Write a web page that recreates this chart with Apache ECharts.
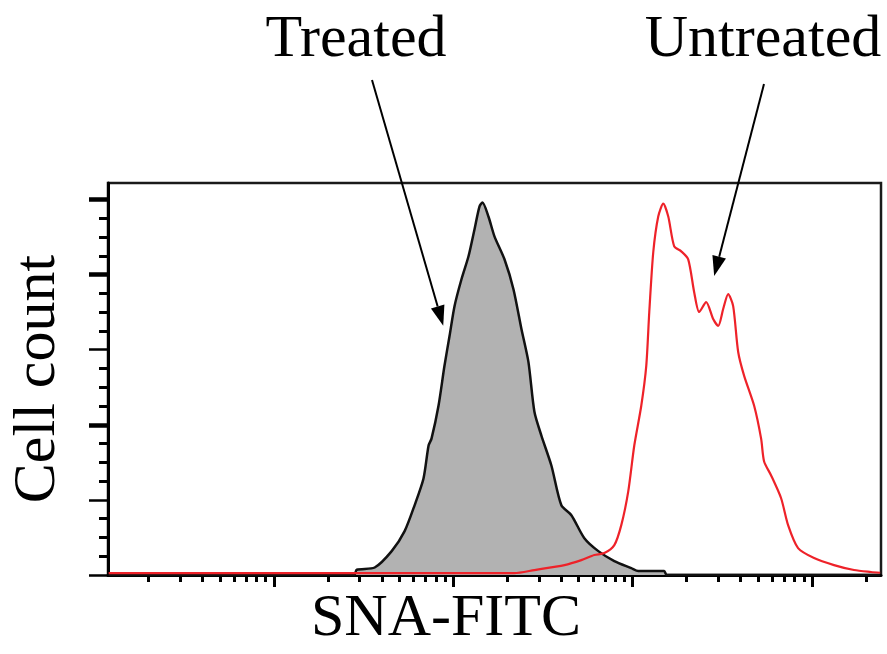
<!DOCTYPE html>
<html>
<head>
<meta charset="utf-8">
<script src="https://cdn.jsdelivr.net/npm/echarts@6/dist/echarts.min.js"></script>
<style>
html,body{margin:0;padding:0;background:#fff;}
#chart{width:887px;height:654px;}
</style>
</head>
<body>
<div id="chart"></div>
<script>
// SNA-FITC fluorescence (log scale) vs cell count
const treatedX = [1.2, 28, 29, 36.5, 45.4, 53.6, 60.9, 68.3, 72.9, 75.7, 82.8, 89.4, 95.4, 101.7, 111.2, 121.7, 131.4, 140.1, 145.6, 157.2, 169.8, 193.1, 216.7, 240.1, 262.6, 283.6, 310.2, 352.6, 400.9, 455.8, 538.4, 644.2, 791, 983, 1076, 1300, 1500, 1550, 24000];
const treatedY = [0, 0, 3.5, 5.0, 15.9, 29.2, 46.4, 64.3, 86.2, 90.8, 112.7, 139.3, 159.1, 179.0, 196.9, 212.2, 230.1, 245.3, 248.0, 238.7, 225.5, 210.2, 190.3, 163.8, 141.9, 108.7, 92.8, 72.9, 46.4, 39.8, 24.5, 15.9, 9.3, 4.6, 2.6, 2.6, 2.6, 0, 0];
const untreatedX = [1.2, 219, 284, 417, 518, 612, 696, 791, 865, 946, 1022, 1118, 1192, 1239, 1304, 1390, 1483, 1581, 1707, 1867, 2042, 2205, 2351, 2572, 2814, 3001, 3199, 3411, 3637, 3879, 4188, 4761, 5207, 5411, 5920, 6730, 7361, 8368, 10273, 13274, 17157, 21330, 24000];
const untreatedY = [1.2, 1.2, 3.3, 6.6, 9.9, 13.3, 14.6, 19.9, 33.2, 55.7, 86.2, 112.7, 139.3, 175.1, 214.9, 238.7, 247.3, 238.7, 218.8, 215.5, 210.2, 188.3, 175.1, 181.7, 170.4, 165.8, 177.1, 187.0, 179.0, 148.5, 132.6, 112.7, 90.8, 75.6, 66.3, 51.1, 33.2, 17.9, 11.3, 6.6, 3.3, 2.0, 1.5];

const xMajorTicks = [10, 100, 1000, 10000];
const xMinorTicks = [2,3,4,5,6,7,8,9,20,30,40,50,60,70,80,90,200,300,400,500,600,700,800,900,2000,3000,4000,5000,6000,7000,8000,9000,20000];
const yThickTicks = [100, 200, 250];
const yThinTicks = [0, 50, 150];
const yMinorTicks = [12.5,25,37.5,62.5,75,87.5,112.5,125,137.5,162.5,175,187.5,212.5,225,237.5];

const labels = {treated: 'Treated', untreated: 'Untreated', x: 'SNA-FITC', y: 'Cell count'};

const serif = "'Liberation Serif','DejaVu Serif','Times New Roman',serif";
const chart = echarts.init(document.getElementById('chart'), null, {renderer: 'canvas'});

const xBase = {type: 'log', min: 1.19, max: 24260, position: 'bottom', gridIndex: 0,
  axisLabel: {show: false}, splitLine: {show: false}, minorTick: {show: false}, minorSplitLine: {show: false}};
const yBase = {type: 'value', min: 0, max: 261, position: 'left', gridIndex: 0,
  axisLabel: {show: false}, splitLine: {show: false}};

const option = {
  animation: false,
  backgroundColor: '#fff',
  grid: {left: 106, top: 183, right: 6, bottom: 77, show: true, borderColor: '#1a1a1a', borderWidth: 2.5, containLabel: false},
  xAxis: [
    Object.assign({}, xBase, {
      name: labels.x, nameLocation: 'middle', nameGap: 14,
      nameTextStyle: {fontFamily: serif, fontSize: 60, color: '#000', padding: [0, 97, 0, 0]},
      axisLine: {show: true, onZero: false, lineStyle: {color: '#000', width: 3}},
      axisTick: {show: true, customValues: xMajorTicks, length: 12, lineStyle: {color: '#000', width: 3}}
    }),
    Object.assign({}, xBase, {
      axisLine: {show: false, onZero: false},
      axisTick: {show: true, customValues: xMinorTicks, length: 7, lineStyle: {color: '#000', width: 3}}
    })
  ],
  yAxis: [
    Object.assign({}, yBase, {
      name: labels.y, nameLocation: 'middle', nameGap: 40, nameRotate: 90,
      nameTextStyle: {fontFamily: serif, fontSize: 60, color: '#000'},
      axisLine: {show: true, onZero: false, lineStyle: {color: '#000', width: 3}},
      axisTick: {show: true, customValues: yThinTicks, length: 19, lineStyle: {color: '#000', width: 2.5}}
    }),
    Object.assign({}, yBase, {
      axisLine: {show: false, onZero: false},
      axisTick: {show: true, customValues: yThickTicks, length: 19, lineStyle: {color: '#000', width: 4.5}}
    }),
    Object.assign({}, yBase, {
      axisLine: {show: false, onZero: false},
      axisTick: {show: true, customValues: yMinorTicks, length: 9, lineStyle: {color: '#000', width: 3}}
    })
  ],
  series: [
    {
      name: labels.treated, type: 'line', xAxisIndex: 0, yAxisIndex: 0,
      data: treatedX.map((v, i) => [v, treatedY[i]]),
      symbol: 'none', smooth: 0.25, z: 2,
      lineStyle: {color: '#111', width: 2.5},
      areaStyle: {color: '#b2b2b2', opacity: 1}
    },
    {
      name: labels.untreated, type: 'line', xAxisIndex: 0, yAxisIndex: 0,
      data: untreatedX.map((v, i) => [v, untreatedY[i]]),
      symbol: 'none', smooth: 0.25, z: 3,
      lineStyle: {color: '#ee2229', width: 2.2}
    }
  ]
};
chart.setOption(option);

function arrow(from, tipData) {
  const tip = chart.convertToPixel({xAxisIndex: 0, yAxisIndex: 0}, tipData);
  const dx = tip[0] - from[0], dy = tip[1] - from[1];
  const len = Math.sqrt(dx * dx + dy * dy);
  const ux = dx / len, uy = dy / len;
  const headLen = 20, headW = 7;
  const bx = tip[0] - ux * headLen, by = tip[1] - uy * headLen;
  return [
    {type: 'line', shape: {x1: from[0], y1: from[1], x2: bx, y2: by}, style: {stroke: '#000', lineWidth: 2}, z: 10},
    {type: 'polygon', shape: {points: [[tip[0], tip[1]], [bx - uy * headW, by + ux * headW], [bx + uy * headW, by - ux * headW]]}, style: {fill: '#000'}, z: 10}
  ];
}

chart.setOption({
  graphic: [
    {type: 'text', x: 356, y: 40, style: {text: labels.treated, font: '60px ' + serif, fill: '#000', align: 'center', verticalAlign: 'middle'}},
    {type: 'text', x: 763, y: 40, style: {text: labels.untreated, font: '60px ' + serif, fill: '#000', align: 'center', verticalAlign: 'middle'}}
  ].concat(arrow([372, 80], [88, 166])).concat(arrow([764, 84], [2850, 199]))
});
</script>
</body>
</html>
